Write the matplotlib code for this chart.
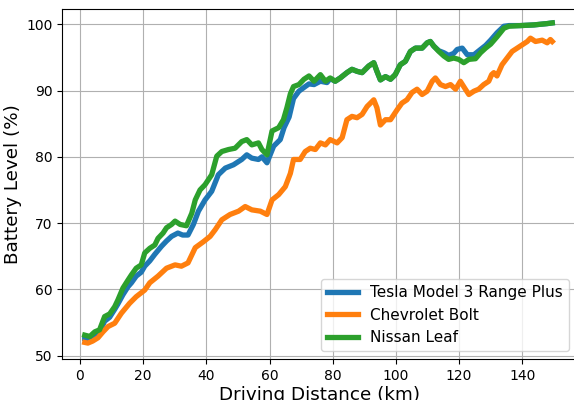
import matplotlib
matplotlib.use("Agg")
import matplotlib.pyplot as plt

# driving distance (km) vs battery level (%)
leaf_x = [1.5, 3.1, 4.7, 6.2, 7.8, 9.4, 11, 12, 13.6, 15.2, 16.3, 17.8, 19.4, 20.5, 22.1, 23.7,
          24.7, 26.3, 27.4, 29, 30.1, 31.7, 33.7, 35.4, 36.5, 38, 39.6, 41.7, 43.3, 44.9, 47,
          49.1, 51.2, 52.8, 54.4, 56.5, 57.6, 59.2, 60.8, 62.9, 64.4, 65.5, 66.6, 67.6, 69.3,
          70.9, 72.5, 74.1, 76.1, 77.7, 79.2, 80.8, 82.4, 84.5, 86.1, 87.7, 89.3, 91.4, 93, 94,
          95.1, 96.7, 98.3, 99.8, 101.4, 103, 104.6, 106.2, 108.3, 109.9, 110.9, 112, 113.6,
          115.2, 116.7, 118.3, 119.9, 121.5, 123.1, 125.2, 126.8, 128.4, 130, 132, 134.2,
          135.8, 139.5, 143.7, 147.9, 149.5]
leaf_y = [53.1, 52.9, 53.6, 53.9, 55.9, 56.3, 57.4, 58.4, 60.2, 61.4, 62.2, 63.2, 63.7, 65.5, 66.2, 66.7,
          67.7, 68.5, 69.3, 69.8, 70.3, 69.8, 69.6, 71.5, 73.5, 75, 75.8, 77.3, 80.1, 80.8, 81.1,
          81.3, 82.3, 82.6, 81.8, 82.1, 81.1, 80.3, 83.9, 84.4, 85.6, 87.4, 89.5, 90.6, 90.9,
          91.7, 92.2, 91.4, 92.4, 91.4, 91.9, 91.4, 91.9, 92.7, 93.2, 92.9, 92.7, 93.7, 94.2, 92.9,
          91.6, 92.1, 91.7, 92.4, 93.9, 94.4, 95.9, 96.4, 96.4, 97.2, 97.4, 96.7, 95.9,
          95.2, 94.7, 94.9, 94.7, 94.2, 94.7, 94.8, 95.7, 96.4, 97, 98.1, 99.4,
          99.7, 99.8, 99.9, 100.1, 100.2]

tesla_x = [1.5, 3.1, 4.7, 6.2, 7.8, 9.4, 11, 12, 13.6, 15.2, 16.3, 17.8, 19.4, 20.5, 22.1, 23.7,
           25.8, 27.4, 29, 31, 32.5, 34.2, 35.9, 37.5, 39.6, 41.7, 43.8, 46, 48.6, 51.2, 52.8,
           54.4, 56.5, 57.6, 59.2, 61.3, 63.4, 64.6, 66.2, 67.6, 69.3, 71.3, 72.5, 74.1, 76.1,
           78.2, 79.2, 80.8, 82.4, 84.5, 86.1, 87.7, 89.3, 91.4, 93, 94, 95.1, 96.7, 98.3, 99.8,
           101.4, 103, 104.6, 106.2, 108.3, 109.9, 110.9, 112, 113.6, 115.2, 116.7, 118.3,
           119.4, 121, 122.6, 124.7, 126.8, 128.4, 130, 132, 134.2, 135.8, 139.5, 143.7,
           147.9, 149.5]
tesla_y = [52.6, 52.6, 53.2, 53.6, 55.2, 55.8, 57, 57.8, 59.2, 60.4, 61, 62, 62.6, 63.5, 64.3, 65.3,
           66.5, 67.3, 68, 68.5, 68.2, 68.2, 69.8, 71.8, 73.5, 74.8, 77.3, 78.3, 78.8, 79.6, 80.3,
           79.8, 79.6, 80, 79.1, 81.6, 82.6, 84.4, 86, 88.8, 89.9, 90.6, 91, 90.9, 91.4,
           91.2, 91.8, 91.4, 91.9, 92.7, 93.2, 92.9, 92.7, 93.7, 94.2, 92.9, 91.6, 92.1, 91.7, 92.4,
           93.9, 94.4, 95.9, 96.4, 96.4, 97.2, 97.4, 96.7, 96, 95.7, 95.3, 95.6,
           96.2, 96.4, 95.4, 95.4, 96.2, 96.8, 97.6, 98.7, 99.7, 99.8, 99.8, 99.9,
           100.1, 100.2]

bolt_x = [1.5, 2.5, 4, 5.7, 7.3, 8.9, 11, 13.1, 15.7, 17.8, 20.5, 22.1, 24.7, 27.4, 30.1, 32.1,
          34.2, 36.5, 39.1, 41.2, 42.8, 44.9, 47.5, 50.2, 52.3, 54.4, 57.1, 59.2, 60.8, 62.9,
          65, 66.6, 67.6, 69.7, 71.3, 72.9, 74.5, 76.1, 77.7, 79.2, 81.4, 83, 84.5, 86.1, 87.7,
          89.3, 90.9, 93, 94, 95.1, 96.7, 98.3, 100.4, 101.9, 103.5, 105.1, 106.7, 108.3,
          109.9, 111.5, 112.5, 114.1, 115.7, 117.3, 118.9, 120.4, 122, 123.1, 124.7, 126.2,
          127.8, 129.4, 130.3, 131, 132, 133.6, 135.2, 136.8, 138.4, 140, 141.6, 142.6, 144.2,
          146.3, 147.9, 148.9, 149.5]
bolt_y = [52, 51.9, 52.2, 52.7, 53.6, 54.4, 54.9, 56.4, 57.9, 58.9, 59.9, 61, 62, 63.2, 63.7, 63.5,
          64, 66.3, 67.2, 68, 69, 70.5, 71.3, 71.8, 72.5, 72, 71.8, 71.3, 73.5, 74.3,
          75.5, 77.5, 79.6, 79.6, 80.8, 81.3, 81.1, 82.1, 81.8, 82.6, 82.1, 82.9, 85.6, 86.1, 85.9,
          86.4, 87.6, 88.6, 87.4, 84.8, 85.6, 85.6, 87.1, 88.1, 88.6, 89.7, 90.2, 89.4,
          89.9, 91.4, 91.9, 90.9, 90.6, 90.9, 90.2, 91.4, 90.2, 89.4, 89.9, 90.2,
          90.9, 91.4, 92.4, 92.7, 92.2, 93.9, 94.9, 95.9, 96.4, 96.9, 97.4, 97.9, 97.4,
          97.6, 97.2, 97.7, 97.4]

fig = plt.figure(figsize=(5.74, 4.0), dpi=100)
ax = fig.add_axes([0.1085, 0.1025, 0.896, 0.875])
ax.plot(tesla_x, tesla_y, color="#1f77b4", linewidth=3.8, label="Tesla Model 3 Range Plus")
ax.plot(bolt_x, bolt_y, color="#ff7f0e", linewidth=3.8, label="Chevrolet Bolt")
ax.plot(leaf_x, leaf_y, color="#2ca02c", linewidth=3.8, label="Nissan Leaf")
ax.set_xlim(-5.6, 157.2)
ax.set_ylim(49.5, 102.3)
ax.set_xlabel("Driving Distance (km)", fontsize=13.2, labelpad=2)
ax.set_ylabel("Battery Level (%)", fontsize=13.2, labelpad=3)
ax.tick_params(labelsize=10)
ax.grid(True)
ax.legend(loc="lower right", fontsize=11)
fig.savefig("out.png", dpi=100)
